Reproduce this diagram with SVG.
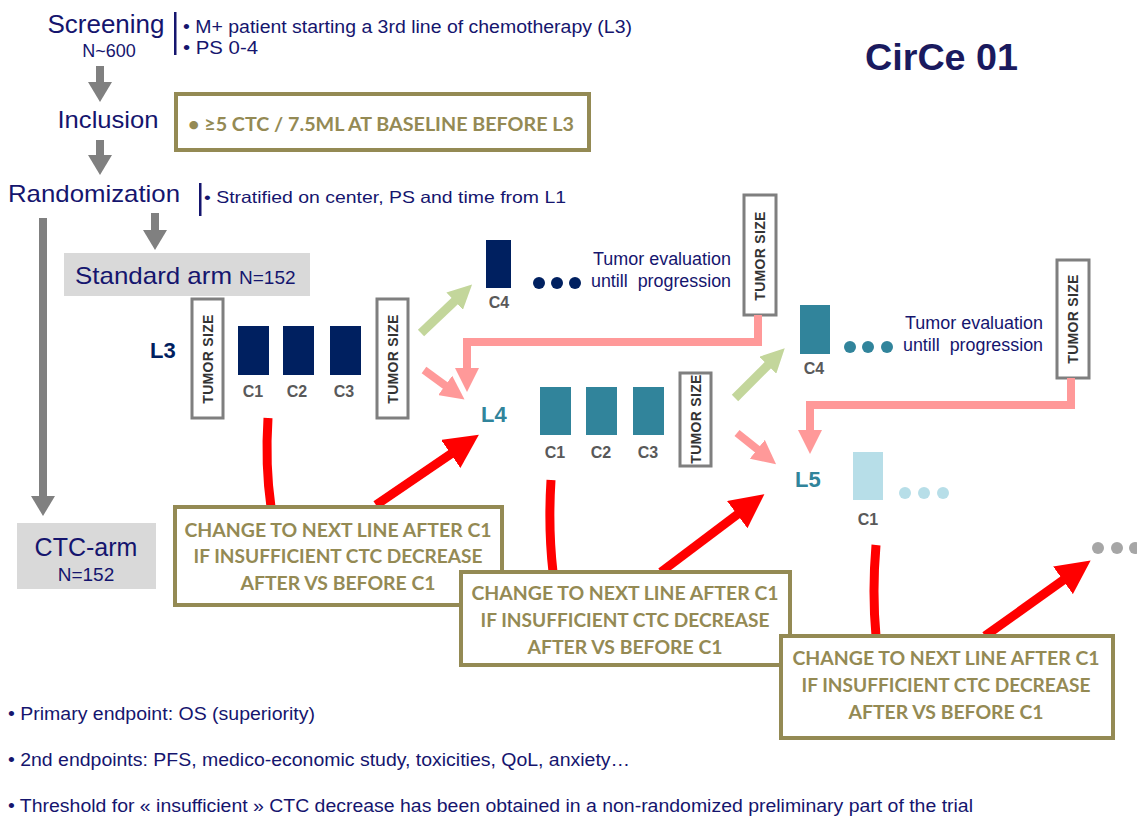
<svg xmlns="http://www.w3.org/2000/svg" width="1137" height="816" viewBox="0 0 1137 816">
<style>
.nv{font-family:"Liberation Sans",Arial,sans-serif;fill:#15156e}
.ol{font-family:Lato,"Liberation Sans",sans-serif;font-weight:700;fill:#948a54}
.cl{font-family:"Liberation Sans",Arial,sans-serif;font-weight:700;fill:#595959;font-size:16px;text-anchor:middle}
.ts{fill:#fff;stroke:#7f7f7f;stroke-width:3}
.tst{font-family:"Liberation Sans",Arial,sans-serif;font-weight:700;fill:#333;font-size:14px;letter-spacing:0.3px;text-anchor:middle}
.obox{fill:#fff;stroke:#948a54;stroke-width:4}
.red{fill:none;stroke:#ff0000;stroke-width:9}
.pink{fill:none;stroke:#ff9999;stroke-width:8}
.green{fill:none;stroke:#c3d69b;stroke-width:9}
.gray{fill:none;stroke:#808080;stroke-width:8}
</style>
<defs>
<marker id="mr" markerUnits="userSpaceOnUse" viewBox="0 0 34 34" markerWidth="34" markerHeight="34" refX="16" refY="17" orient="auto"><path d="M0,0 L34,17 L0,34 z" fill="#ff0000"/></marker>
<marker id="mp" markerUnits="userSpaceOnUse" viewBox="0 0 24 24" markerWidth="24" markerHeight="24" refX="6" refY="12" orient="auto"><path d="M0,0 L24,12 L0,24 z" fill="#ff9999"/></marker>
<marker id="mg" markerUnits="userSpaceOnUse" viewBox="0 0 24 24" markerWidth="24" markerHeight="24" refX="6" refY="12" orient="auto"><path d="M0,0 L24,12 L0,24 z" fill="#c3d69b"/></marker>
<marker id="mk" markerUnits="userSpaceOnUse" viewBox="0 0 20 24" markerWidth="20" markerHeight="24" refX="4" refY="12" orient="auto"><path d="M0,0 L20,12 L0,24 z" fill="#808080"/></marker>
</defs>
<rect width="1137" height="816" fill="#fff"/>

<g id="screening">
<text class="nv" x="106" y="33" font-size="25" text-anchor="middle" textLength="117" lengthAdjust="spacingAndGlyphs">Screening</text>
<text class="nv" x="109" y="57" font-size="18" text-anchor="middle">N~600</text>
<rect x="174" y="12" width="2.5" height="43" fill="#15156e"/>
<text class="nv" x="183" y="33" font-size="17.5" textLength="449" lengthAdjust="spacingAndGlyphs">• M+ patient starting a 3rd line of chemotherapy (L3)</text>
<text class="nv" x="183" y="54" font-size="18" textLength="75" lengthAdjust="spacingAndGlyphs">• PS 0-4</text>
</g>
<g id="title"><text x="865" y="70" font-family="Liberation Sans,Arial,sans-serif" font-weight="700" font-size="36" fill="#1a1a5e" textLength="153" lengthAdjust="spacingAndGlyphs">CirCe 01</text></g>

<g id="inclusion">
<text class="nv" x="108" y="128" font-size="24" text-anchor="middle" textLength="101" lengthAdjust="spacingAndGlyphs">Inclusion</text>
<rect class="obox" x="176" y="94" width="413" height="56"/>
<text class="ol" x="188" y="131" font-size="19" textLength="386" lengthAdjust="spacingAndGlyphs">• ≥5 CTC / 7.5ML AT BASELINE BEFORE L3</text>
</g>

<g id="randomization">
<text class="nv" x="8" y="202" font-size="24" textLength="172" lengthAdjust="spacingAndGlyphs">Randomization</text>
<rect x="199" y="183" width="2.5" height="33" fill="#15156e"/>
<text class="nv" x="204" y="203" font-size="16.5" textLength="362" lengthAdjust="spacingAndGlyphs">• Stratified on center, PS and time from L1</text>
</g>

<g id="standard-arm">
<rect x="64" y="253" width="246" height="43" fill="#d9d9d9"/>
<text class="nv" x="75" y="284"><tspan font-size="24" textLength="157" lengthAdjust="spacingAndGlyphs">Standard arm</tspan><tspan font-size="19" dx="7">N=152</tspan></text>
</g>
<g id="ctc-arm">
<rect x="17" y="523" width="139" height="66" fill="#d9d9d9"/>
<text class="nv" x="86" y="556" font-size="25" text-anchor="middle">CTC-arm</text>
<text class="nv" x="86" y="581" font-size="19" text-anchor="middle">N=152</text>
</g>

<g id="L3">
<text x="150" y="358" font-family="Liberation Sans,Arial,sans-serif" font-weight="700" font-size="22" fill="#002060">L3</text>
<rect class="ts" x="192" y="299" width="31" height="119"/>
<text class="tst" transform="translate(213,359) rotate(-90)">TUMOR SIZE</text>
<rect x="238" y="326" width="31" height="49" fill="#002060"/>
<rect x="283" y="326" width="31" height="49" fill="#002060"/>
<rect x="330" y="326" width="31" height="49" fill="#002060"/>
<text class="cl" x="253" y="397">C1</text>
<text class="cl" x="297" y="397">C2</text>
<text class="cl" x="344" y="397">C3</text>
<rect class="ts" x="377" y="299" width="31" height="119"/>
<text class="tst" transform="translate(398,359) rotate(-90)">TUMOR SIZE</text>
</g>

<g id="L3-C4">
<rect x="486" y="240" width="25" height="48" fill="#002060"/>
<text class="cl" x="499" y="308">C4</text>
<circle cx="539" cy="283" r="6" fill="#002060"/>
<circle cx="557" cy="283" r="6" fill="#002060"/>
<circle cx="575" cy="283" r="6" fill="#002060"/>
<text class="nv" x="731" y="265" font-size="17.5" text-anchor="end" textLength="138" lengthAdjust="spacingAndGlyphs">Tumor evaluation</text>
<text class="nv" x="731" y="287" font-size="17.5" text-anchor="end" xml:space="preserve" textLength="140" lengthAdjust="spacingAndGlyphs">untill  progression</text>
<rect class="ts" x="744" y="195" width="32" height="120"/>
<text class="tst" transform="translate(765,256) rotate(-90)">TUMOR SIZE</text>
</g>

<g id="L4">
<text x="481" y="422" font-family="Liberation Sans,Arial,sans-serif" font-weight="700" font-size="22" fill="#31849b">L4</text>
<rect x="540" y="387" width="31" height="48" fill="#31849b"/>
<rect x="586" y="387" width="31" height="48" fill="#31849b"/>
<rect x="633" y="387" width="31" height="48" fill="#31849b"/>
<text class="cl" x="555" y="458">C1</text>
<text class="cl" x="601" y="458">C2</text>
<text class="cl" x="648" y="458">C3</text>
<rect class="ts" x="680" y="373" width="31" height="93"/>
<text class="tst" transform="translate(701,419) rotate(-90)">TUMOR SIZE</text>
</g>

<g id="L4-C4">
<rect x="800" y="305" width="30" height="49" fill="#31849b"/>
<text class="cl" x="814" y="374">C4</text>
<circle cx="850" cy="347" r="6" fill="#31849b"/>
<circle cx="868" cy="347" r="6" fill="#31849b"/>
<circle cx="887" cy="347" r="6" fill="#31849b"/>
<text class="nv" x="1043" y="329" font-size="17.5" text-anchor="end" textLength="138" lengthAdjust="spacingAndGlyphs">Tumor evaluation</text>
<text class="nv" x="1043" y="351" font-size="17.5" text-anchor="end" xml:space="preserve" textLength="140" lengthAdjust="spacingAndGlyphs">untill  progression</text>
<rect class="ts" x="1057" y="260" width="32" height="118"/>
<text class="tst" transform="translate(1078,319) rotate(-90)">TUMOR SIZE</text>
</g>

<g id="L5">
<text x="795" y="487" font-family="Liberation Sans,Arial,sans-serif" font-weight="700" font-size="22" fill="#31849b">L5</text>
<rect x="853" y="452" width="30" height="48" fill="#b7dee8"/>
<text class="cl" x="868" y="525">C1</text>
<circle cx="905" cy="493" r="6" fill="#b7dee8"/>
<circle cx="924" cy="493" r="6" fill="#b7dee8"/>
<circle cx="943" cy="493" r="6" fill="#b7dee8"/>
</g>

<g id="more">
<circle cx="1098" cy="548" r="6" fill="#a6a6a6"/>
<circle cx="1117" cy="548" r="6" fill="#a6a6a6"/>
<circle cx="1135" cy="548" r="6" fill="#a6a6a6"/>
</g>

<g id="connectors">
<path class="gray" d="M100,66 V86" marker-end="url(#mk)"/>
<path class="gray" d="M100,140 V159" marker-end="url(#mk)"/>
<path class="gray" d="M155,213 V234" marker-end="url(#mk)"/>
<path class="gray" d="M43,218 V500" marker-end="url(#mk)"/>
<path class="green" d="M421,333 L459,297" marker-end="url(#mg)"/>
<path class="green" d="M735,398 L772,361" marker-end="url(#mg)"/>
<path class="pink" d="M424,370 L450,389" marker-end="url(#mp)"/>
<path class="pink" d="M737,433 L762,453" marker-end="url(#mp)"/>
<path class="pink" d="M758,315 V342 H467 V374" stroke-linejoin="miter" marker-end="url(#mp)"/>
<path class="pink" d="M1071,378 V405 H810 V436" stroke-linejoin="miter" marker-end="url(#mp)"/>
<path class="red" d="M268,418 Q265,465 271,507"/>
<path class="red" d="M551,480 Q548,528 553,572"/>
<path class="red" d="M876,545 Q872,592 876,636"/>
<path class="red" d="M376,505 L464,445" marker-end="url(#mr)"/>
<path class="red" d="M661,572 L750,505" marker-end="url(#mr)"/>
<path class="red" d="M985,636 L1076,571" marker-end="url(#mr)"/>
</g>

<g id="rule1">
<rect class="obox" x="175" y="507" width="327" height="98"/>
<text class="ol" x="338" y="537" font-size="19" text-anchor="middle" textLength="307" lengthAdjust="spacingAndGlyphs">CHANGE TO NEXT LINE AFTER C1</text>
<text class="ol" x="338" y="563" font-size="19" text-anchor="middle" textLength="289" lengthAdjust="spacingAndGlyphs">IF INSUFFICIENT CTC DECREASE</text>
<text class="ol" x="338" y="590" font-size="19" text-anchor="middle" textLength="195" lengthAdjust="spacingAndGlyphs">AFTER VS BEFORE C1</text>
</g>
<g id="rule2">
<rect class="obox" x="461" y="572" width="329" height="93"/>
<text class="ol" x="625" y="600" font-size="19" text-anchor="middle" textLength="307" lengthAdjust="spacingAndGlyphs">CHANGE TO NEXT LINE AFTER C1</text>
<text class="ol" x="625" y="627" font-size="19" text-anchor="middle" textLength="289" lengthAdjust="spacingAndGlyphs">IF INSUFFICIENT CTC DECREASE</text>
<text class="ol" x="625" y="654" font-size="19" text-anchor="middle" textLength="195" lengthAdjust="spacingAndGlyphs">AFTER VS BEFORE C1</text>
</g>
<g id="rule3">
<rect class="obox" x="781" y="636" width="332" height="102"/>
<text class="ol" x="946" y="665" font-size="19" text-anchor="middle" textLength="307" lengthAdjust="spacingAndGlyphs">CHANGE TO NEXT LINE AFTER C1</text>
<text class="ol" x="946" y="692" font-size="19" text-anchor="middle" textLength="289" lengthAdjust="spacingAndGlyphs">IF INSUFFICIENT CTC DECREASE</text>
<text class="ol" x="946" y="719" font-size="19" text-anchor="middle" textLength="195" lengthAdjust="spacingAndGlyphs">AFTER VS BEFORE C1</text>
</g>

<g id="notes">
<text class="nv" x="8" y="720" font-size="17.5" textLength="307" lengthAdjust="spacingAndGlyphs">• Primary endpoint: OS (superiority)</text>
<text class="nv" x="8" y="766" font-size="17.5" textLength="622" lengthAdjust="spacingAndGlyphs">• 2nd endpoints: PFS, medico-economic study, toxicities, QoL, anxiety…</text>
<text class="nv" x="8" y="812" font-size="17.5" textLength="965" lengthAdjust="spacingAndGlyphs">• Threshold for « insufficient » CTC decrease has been obtained in a non-randomized preliminary part of the trial</text>
</g>
</svg>
